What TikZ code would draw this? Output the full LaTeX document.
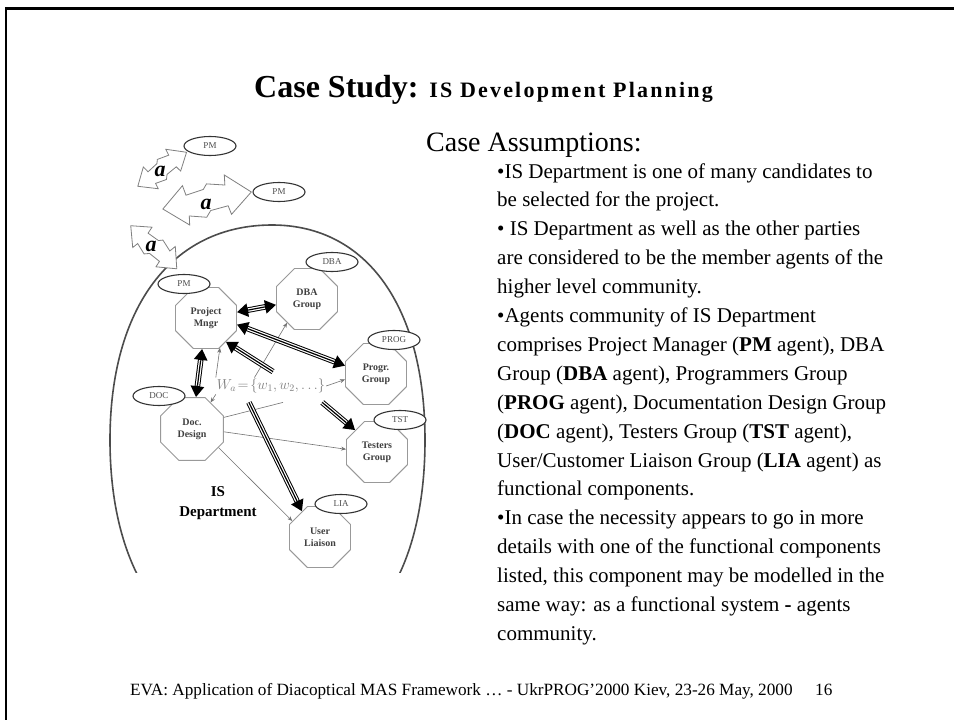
\documentclass[tikz,border=0pt]{standalone}
\usepackage{fontspec}
\setmainfont{Liberation Serif}
\usetikzlibrary{shapes.geometric,arrows.meta,calc}
\tikzset{
 oct/.style={regular polygon, regular polygon sides=8, draw=black!40, line width=0.9pt, minimum size=66pt, inner sep=0pt, align=center, font=\fontsize{10}{12}\selectfont\bfseries, text=black!75, fill=white},
 lab/.style={ellipse, draw=black!80, line width=1.1pt, minimum width=52pt, minimum height=19pt, inner sep=0pt, font=\fontsize{9}{10}\selectfont, text=black!70, fill=white},
 body/.style={anchor=base west, inner sep=0pt, font=\fontsize{21}{24}\selectfont},
 thin/.style={draw=black!55, line width=0.6pt, -{Stealth[length=5pt,width=4pt]}},
 thinnt/.style={draw=black!55, line width=0.6pt},
 jag/.style={draw=black!50, fill=white, line width=0.8pt, line join=miter},
 atext/.style={font=\fontsize{22}{22}\selectfont\bfseries\itshape, inner sep=0pt},
 stripeblack/.style={line width=5.6pt, black},
 stripewhite/.style={line width=3.6pt, white},
 stripecore/.style={line width=1.2pt, black},
}
\newcommand{\stripearrow}[5]{% #1 tips, #2 shorten<, #3 shorten>, #4 from, #5 to
 \draw[stripeblack, #1] #4 -- #5;
 \draw[stripewhite, shorten <=#2, shorten >=#3] #4 -- #5;
 \draw[stripecore, shorten <=#2, shorten >=#3] #4 -- #5;}
\newcommand{\jagarrow}[4]{%
 \begin{scope}[shift={(#1,#2)}, rotate=#3, scale=#4]
 \draw[jag] (-45,2) -- (-22,-18) -- (-20,-8) -- (-2,-11) -- (2,-16) -- (20,-12) -- (21,-22) -- (45,-1) -- (22,18) -- (20,9) -- (2,11) -- (-3,17) -- (-20,13) -- (-21,22) -- cycle;
 \end{scope}}
\begin{document}
\begin{tikzpicture}[x=1pt,y=-1pt]
\useasboundingbox (0,0) rectangle (954,720);
\fill[white] (0,0) rectangle (954,720);
% slide frame
\draw[line width=2.6pt] (6,720) -- (6,8.5) -- (954,8.5);

% title
\node[anchor=base west, inner sep=0pt] (title) at (254,97)
 {{\fontsize{32}{36}\selectfont\bfseries Case Study: }{\fontsize{22}{24}\selectfont\bfseries\addfontfeature{LetterSpace=10}IS Development Planning}};

% big ellipse (community)
\begin{scope}
\clip (95,200) rectangle (445,572);
\draw[black!70, line width=1.6pt] (272,225) .. controls (367,225) and (425,307) .. (425,440)
  .. controls (425,576) and (367,660) .. (270,660)
  .. controls (172,660) and (110,576) .. (110,440)
  .. controls (110,307) and (172,225) .. (272,225) -- cycle;
\end{scope}

% upper-level PM agents and interaction arrows
\node[lab] (pm1) at (210,146) {PM};
\node[lab] (pm2) at (279,192) {PM};
\jagarrow{162}{169}{33}{0.66}
\jagarrow{207}{200}{9}{1}
\jagarrow{154}{247}{-45}{0.7}
\node[atext] (a1) at (160,171) {a};
\node[atext] (a2) at (206,204) {a};
\node[atext] (a3) at (151,246) {a};

% agents
\node[oct] (pm) at (206,318) {Project\\Mngr};
\node[oct] (dba) at (307,299) {DBA\\Group};
\node[oct] (prog) at (376,374) {Progr.\\Group};
\node[oct] (tst) at (377,452) {Testers\\Group};
\node[oct, minimum size=68pt] (doc) at (192,429) {Doc.\\Design};
\node[oct] (lia) at (320,537) {User\\Liaison};

\node[font=\fontsize{14}{14}\selectfont, text=black!50, inner sep=1pt] (w) at (271,386) {$W_a\!=\!\{w_1,w_2,\ldots\}$};
\node[align=center, font=\fontsize{15}{20}\selectfont\bfseries] (isd) at (218,503) {IS\\Department};

% thin links
\draw[thin] (w.north west) -- (pm.-65);
\draw[thin] ($(w.north west)!0.35!(w.north east)$) -- (dba.-130);
\draw[thin] (w.east) -- (prog.190);
\draw[thin] (w.south west) -- (doc.55);
\draw[thinnt] (doc.20) -- ([shift={(12,8)}]w.south);
\draw[thin] (doc.-5) -- (tst.175);
\draw[thin] (doc.-35) -- (lia.150);

% striped links
\stripearrow{{Triangle[length=11pt,width=13pt]}-{Triangle[length=11pt,width=13pt]}}{11.5pt}{11.5pt}{(pm)}{(dba)}
\stripearrow{{Triangle[length=11pt,width=13pt]}-{Triangle[length=11pt,width=13pt]}}{11.5pt}{11.5pt}{(pm.-12)}{(prog.165)}
\stripearrow{{Triangle[length=11pt,width=13pt]}-{Triangle[length=11pt,width=13pt]}}{11.5pt}{11.5pt}{(pm)}{(doc)}
\stripearrow{-{Triangle[length=11pt,width=13pt]}}{0pt}{11.5pt}{([shift={(2,-6)}]w.north)}{(pm.-50)}
\stripearrow{-{Triangle[length=11pt,width=13pt]}}{0pt}{11.5pt}{([shift={(-4,8)}]w.south east)}{(tst.135)}
\stripearrow{-{Triangle[length=11pt,width=13pt]}}{0pt}{11.5pt}{([shift={(0,8)}]$(w.south west)!0.3!(w.south east)$)}{(lia.125)}

% agent labels
\node[lab] (pml) at (184,284) {PM};
\node[lab] (dbal) at (332,262) {DBA};
\node[lab] (progl) at (394,340) {PROG};
\node[lab] (tstl) at (400,420) {TST};
\node[lab] (docl) at (159,396) {DOC};
\node[lab] (lial) at (341,504) {LIA};

% right-hand text
\node[anchor=base west, inner sep=0pt, font=\fontsize{28}{32}\selectfont] (ca) at (426,151) {Case Assumptions:};
\node[body] (l1) at (497,178) {•IS Department is one of many candidates to};
\node[body] (l2) at (497,206.9) {be selected for the project.};
\node[body] (l3) at (497,235.8) {• IS Department as well as the other parties};
\node[body] (l4) at (497,264.7) {are considered to be the member agents of the};
\node[body] (l5) at (497,293.6) {higher level community.};
\node[body] (l6) at (497,322.5) {•Agents community of IS Department};
\node[body] (l7) at (497,351.4) {comprises Project Manager (\textbf{PM} agent), DBA};
\node[body] (l8) at (497,380.3) {Group (\textbf{DBA} agent), Programmers Group};
\node[body] (l9) at (497,409.2) {(\textbf{PROG} agent), Documentation Design Group};
\node[body] (l10) at (497,438.1) {(\textbf{DOC} agent), Testers Group (\textbf{TST} agent),};
\node[body] (l11) at (497,467) {User/Customer Liaison Group (\textbf{LIA} agent) as};
\node[body] (l12) at (497,495.9) {functional components.};
\node[body] (l13) at (497,524.8) {•In case the necessity appears to go in more};
\node[body] (l14) at (497,553.7) {details with one of the functional components};
\node[body] (l15) at (497,582.6) {listed, this component may be modelled in the};
\node[body] (l16) at (497,611.5) {same way: as a functional system \textbf{-} agents};
\node[body] (l17) at (497,640.4) {community.};

% footer
\node[anchor=base west, inner sep=0pt, font=\fontsize{17.2}{20}\selectfont] (foot) at (130,695) {EVA: Application of Diacoptical MAS Framework … - UkrPROG'2000 Kiev, 23-26 May, 2000};
\node[anchor=base west, inner sep=0pt, font=\fontsize{17.2}{20}\selectfont] (pg) at (815,695) {16};
\end{tikzpicture}
\end{document}
